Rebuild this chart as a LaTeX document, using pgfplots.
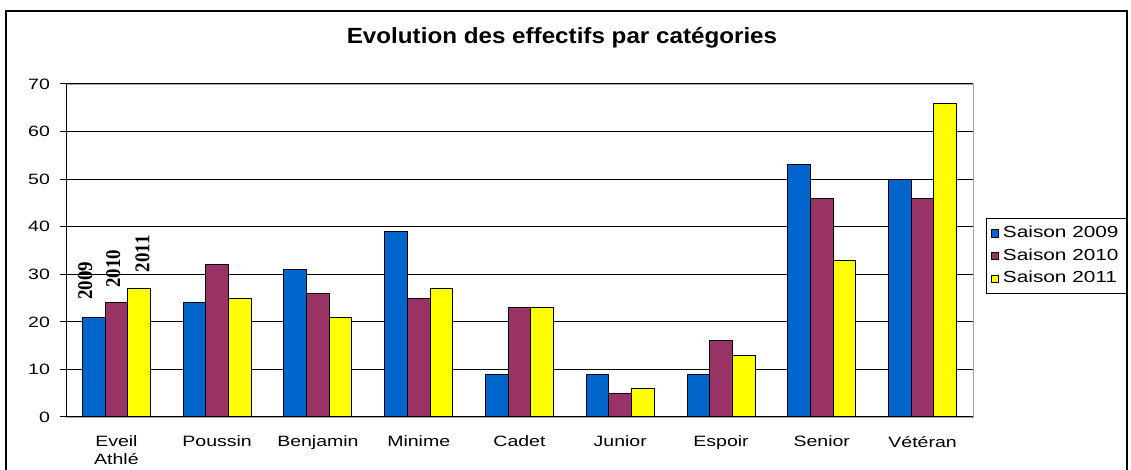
\documentclass[border=0pt]{standalone}
\usepackage{pgfplots}
\pgfplotsset{compat=1.18}
\usepackage{fontspec}
\setmainfont[FakeStretch=1.1]{Liberation Sans}
\newfontfamily\lab[FakeStretch=1.3]{Liberation Sans}
\newfontfamily\leg[FakeStretch=1.3]{Liberation Sans}
\newfontfamily\serifb[FakeStretch=0.9]{Liberation Serif}
\definecolor{cA}{HTML}{0066CC}
\definecolor{cB}{HTML}{993366}
\definecolor{cC}{HTML}{FFFF00}
\pgfplotsset{sqleg/.style={legend image code/.code={\draw[##1, line width=0.4pt] (0pt,-1.8pt) rectangle (3.8pt,1.8pt);}}}
\begin{document}
\begin{tikzpicture}
\useasboundingbox (-33pt,-26.5pt) rectangle (532.5pt,208.5pt);
\draw[line width=1pt] (-30pt,-40pt) -- (-30pt,203pt) -- (530.5pt,203pt) -- (530.5pt,-40pt);
\node[font=\bfseries\fontsize{11}{13}\selectfont] at (248pt,189.5pt) {Evolution des effectifs par catégories};
\begin{axis}[
  scale only axis, width=453.5pt, height=166.5pt,
  xmin=-0.5, xmax=8.5, ymin=0, ymax=70,
  ybar=0pt, bar width=0.225,
  axis line style={draw=gray!70},
  /pgf/number format/assume math mode=true,
  xtick={0,...,8},
  xticklabels={{Eveil\\Athlé},Poussin,Benjamin,Minime,Cadet,Junior,Espoir,Senior,Vétéran},
  xticklabel style={align=center, font=\lab\fontsize{7.5}{9}\selectfont, yshift=-3pt},
  major x tick style={draw=none},
  extra x ticks={-0.5,0.5,1.5,2.5,3.5,4.5,5.5,6.5,7.5,8.5},
  extra x tick labels={},
  extra x tick style={major tick length=3pt, tick style={draw=black, line width=0.5pt}, grid=none},
  ytick={0,10,...,70},
  yticklabel style={font=\lab\fontsize{7.5}{9}\selectfont, xshift=-1.5pt},
  tick align=outside, tick pos=left,
  major tick length=3pt,
  ytick style={draw=black, line width=0.5pt},
  ymajorgrids, grid style={black, line width=0.5pt},
  legend style={at={(1.0143,0.598)}, anchor=north west, draw=black, line width=0.6pt,
    font=\leg\fontsize{8}{10}\selectfont, row sep=0pt, inner xsep=2pt, inner ysep=1.8pt},
  legend cell align=left,
]
\addplot[fill=cA, draw=black, line width=0.5pt, sqleg] coordinates {(0,21) (1,24) (2,31) (3,39) (4,9) (5,9) (6,9) (7,53) (8,50)};
\addplot[fill=cB, draw=black, line width=0.5pt, sqleg] coordinates {(0,24) (1,32) (2,26) (3,25) (4,23) (5,5) (6,16) (7,46) (8,46)};
\addplot[fill=cC, draw=black, line width=0.5pt, sqleg] coordinates {(0,27) (1,25) (2,21) (3,27) (4,23) (5,6) (6,13) (7,33) (8,66)};
\legend{Saison 2009,Saison 2010,Saison 2011}
\draw[black, line width=0.6pt] (rel axis cs:0,1) -- (rel axis cs:0,0) -- (rel axis cs:1,0);
\node[rotate=90, font=\serifb\bfseries\fontsize{10.5}{12}\selectfont] at (axis cs:-0.31,28.6) {2009};
\node[rotate=90, font=\serifb\bfseries\fontsize{10.5}{12}\selectfont] at (axis cs:-0.03,31.2) {2010};
\node[rotate=90, font=\serifb\bfseries\fontsize{10.5}{12}\selectfont] at (axis cs:0.26,34.3) {2011};
\end{axis}
\end{tikzpicture}
\end{document}
